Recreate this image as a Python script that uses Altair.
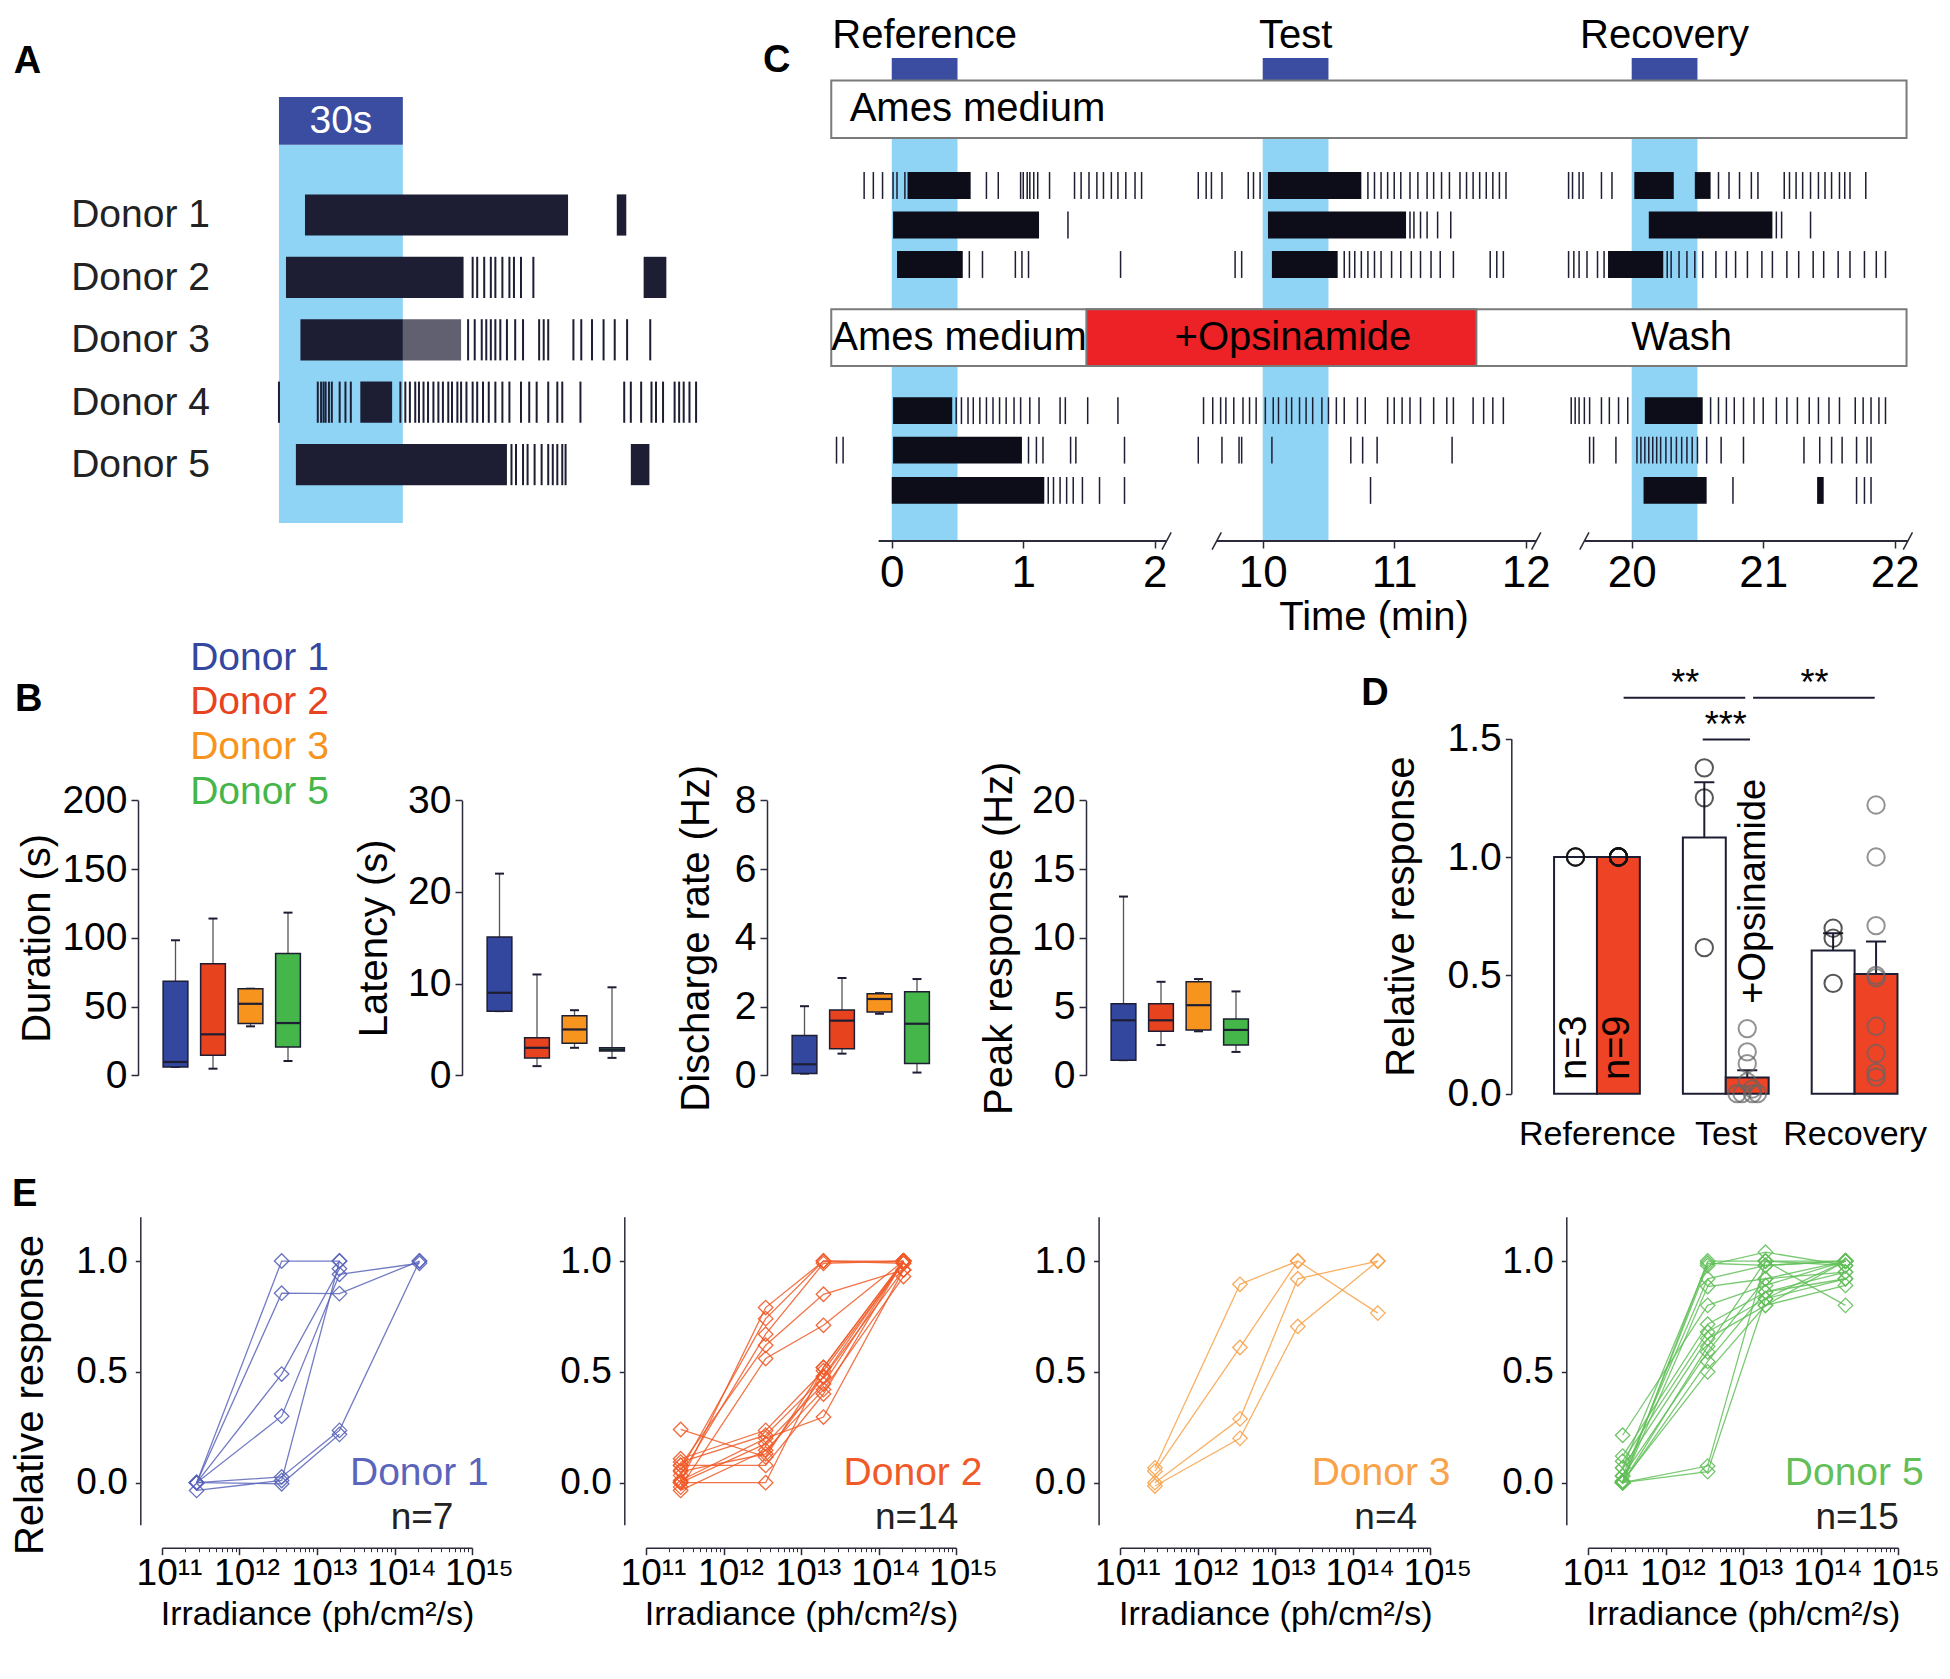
import altair as alt
import pandas as pd

FONT = "Liberation Sans, Arial, Helvetica, DejaVu Sans, sans-serif"
INK = "#1d1d33"
AXC = "#2a2a3a"
BAND = "#8fd4f5"
NAVY = "#3b4da0"
RED = "#ed2226"
BARRED = "#ee4324"
DON_COL = ["#34479e", "#e8431f", "#f7941d", "#45b64a"]
E_COL = ["#5964ba", "#f05a28", "#f8a24a", "#62bf59"]

# ---------------- Panel A data (time in s) ----------------
A_ROWS = [1, 2, 3, 4, 5]
A_BURST_ROW = [1, 1, 2, 2, 3, 3, 4, 5, 5]
A_BURST_START = [6.3, 81.8, 1.7, 88.3, 5.2, 30.0, 19.7, 4.1, 85.2]
A_BURST_END = [70.0, 84.1, 44.7, 93.8, 30.0, 44.1, 27.4, 55.2, 89.7]
A_BURST_SHADE = [1.0, 1.0, 1.0, 1.0, 1.0, 0.7, 1.0, 1.0, 1.0]
A_SPIKES = {
    2: [46.9, 48.0, 49.7, 51.3, 52.4, 54.1, 55.8, 56.9, 58.6, 61.6],
    3: [45.8, 47.4, 49.1, 50.2, 51.3, 52.4, 53.6, 55.2, 57.2, 59.1, 63.0, 64.1, 65.2,
        71.3, 73.2, 75.8, 78.6, 81.3, 84.3, 89.9],
    4: [0.0, 9.4, 10.2, 10.8, 11.3, 12.1, 12.8, 14.7, 16.1, 17.4, 29.4, 30.6, 31.7, 33.0,
        33.9, 35.0, 36.1, 37.4, 38.6, 39.7, 41.0, 41.9, 43.2, 44.1, 45.4, 46.9, 48.0, 49.4,
        50.8, 52.4, 54.1, 55.8, 58.6, 60.6, 62.4, 65.2, 67.4, 68.6, 73.0, 83.6, 85.2, 87.7,
        90.2, 91.3, 93.0, 95.8, 96.9, 98.0, 99.4, 101.0],
    5: [56.3, 57.4, 59.1, 60.2, 61.9, 63.6, 65.2, 66.3, 67.4, 68.6, 69.4],
}

# ---------------- Panel C data (time in min) ----------------
C_ROW_Y = {1: 1.0, 2: 2.0, 3: 3.0, 4: 6.7, 5: 7.7, 6: 8.72}
C_BURSTS = {
    1: [(0.12, 0.60), (10.04, 10.75), (20.02, 20.32), (20.48, 20.60)],
    2: [(0.01, 1.12), (10.04, 11.09), (20.13, 21.07)],
    3: [(0.04, 0.54), (10.07, 10.57), (19.82, 20.24)],
    4: [(0.01, 0.46), (20.10, 20.54)],
    5: [(0.01, 0.99)],
    6: [(0.0, 1.16), (20.09, 20.57), (21.41, 21.46)],
}
C_SPIKES = {
    1: [-0.21, -0.14, -0.07, 0.01, 0.04, 0.10, 0.72, 0.81, 0.98, 1.00, 1.03, 1.05, 1.08, 1.11,
        1.20, 1.39, 1.44, 1.50, 1.56, 1.61, 1.67, 1.72, 1.78, 1.85, 1.90, 9.51, 9.57, 9.61,
        9.69, 9.89, 9.93, 9.98, 10.80, 10.85, 10.90, 10.95, 11.00, 11.05, 11.12, 11.18, 11.25,
        11.30, 11.36, 11.42, 11.50, 11.55, 11.60, 11.65, 11.70, 11.75, 11.80, 11.85, 19.52,
        19.55, 19.60, 19.63, 19.77, 19.85, 20.66, 20.74, 20.82, 20.91, 20.96, 21.16, 21.20,
        21.25, 21.30, 21.36, 21.42, 21.47, 21.52, 21.58, 21.62, 21.66, 21.78],
    2: [1.34, 11.12, 11.15, 11.20, 11.25, 11.33, 11.43, 21.10, 21.14, 21.36],
    3: [0.59, 0.69, 0.94, 0.99, 1.04, 1.74, 9.79, 9.84, 10.62, 10.66, 10.70, 10.75, 10.80,
        10.85, 10.90, 10.98, 11.05, 11.13, 11.20, 11.28, 11.35, 11.45, 11.73, 11.78, 11.83,
        19.52, 19.56, 19.60, 19.66, 19.74, 19.79, 20.27, 20.30, 20.36, 20.42, 20.48, 20.54,
        20.64, 20.72, 20.79, 20.88, 20.99, 21.07, 21.18, 21.27, 21.38, 21.46, 21.57, 21.66,
        21.77, 21.86, 21.93],
    4: [0.49, 0.53, 0.58, 0.62, 0.67, 0.72, 0.77, 0.82, 0.87, 0.93, 0.98, 1.05, 1.12, 1.28,
        1.32, 1.49, 1.72, 9.55, 9.62, 9.68, 9.72, 9.78, 9.85, 9.90, 9.95, 10.02, 10.08, 10.12,
        10.18, 10.22, 10.28, 10.33, 10.38, 10.45, 10.50, 10.56, 10.62, 10.72, 10.78, 10.95,
        11.00, 11.06, 11.12, 11.20, 11.30, 11.40, 11.45, 11.60, 11.68, 11.75, 11.83, 19.54,
        19.57, 19.60, 19.64, 19.68, 19.77, 19.83, 19.90, 19.97, 20.60, 20.66, 20.72, 20.78,
        20.85, 20.93, 21.00, 21.10, 21.18, 21.26, 21.35, 21.42, 21.50, 21.58, 21.70, 21.76,
        21.82, 21.88, 21.93],
    5: [-0.42, -0.37, 1.04, 1.10, 1.15, 1.36, 1.40, 1.77, 9.51, 9.69, 9.82, 9.84, 10.07,
        10.67, 10.76, 10.87, 11.44, 19.68, 19.71, 19.88, 20.04, 20.07, 20.10, 20.13, 20.16,
        20.19, 20.22, 20.26, 20.30, 20.34, 20.38, 20.42, 20.46, 20.50, 20.57, 20.68, 20.85,
        21.31, 21.43, 21.52, 21.60, 21.71, 21.79, 21.82],
    6: [1.19, 1.23, 1.28, 1.33, 1.38, 1.45, 1.58, 1.77, 10.82, 20.77, 21.71, 21.77, 21.82],
}
C_TICKS = [0, 1, 2, 10, 11, 12, 20, 21, 22]
C_STIM = [0, 10, 20]
C_PHASES = ["Reference", "Test", "Recovery"]
C_SHIFT = [0.0, 7.179, 14.373]  # minutes cut out of the broken time axis


def cu(t):
    if t >= 19.0:
        return t - C_SHIFT[2]
    if t >= 9.0:
        return t - C_SHIFT[1]
    return t


# ---------------- Panel B data ----------------
B_DONORS = ["Donor 1", "Donor 2", "Donor 3", "Donor 5"]
B_DUR = dict(lo=[6.1, 4.8, 35.6, 10.4], q1=[6.1, 14.5, 37.6, 20.6], med=[9.7, 29.8, 52.0, 38.0],
             q3=[68.4, 81.2, 63.0, 88.5], hi=[98.2, 114.0, 63.0, 118.3])
B_LAT = dict(lo=[7.0, 1.0, 3.0, 1.9], q1=[7.0, 1.9, 3.5, 2.65], med=[9.0, 3.0, 5.0, 2.8],
             q3=[15.1, 4.1, 6.5, 3.0], hi=[22.0, 11.0, 7.1, 9.6])
B_DIS = dict(lo=[0.05, 0.63, 1.79, 0.08], q1=[0.05, 0.77, 1.84, 0.34], med=[0.32, 1.59, 2.22, 1.5],
             q3=[1.16, 1.9, 2.37, 2.43], hi=[2.01, 2.83, 2.39, 2.8])
B_PEAK = dict(lo=[1.1, 2.2, 3.2, 1.7], q1=[1.1, 3.2, 3.3, 2.2], med=[4.0, 4.0, 5.1, 3.3],
              q3=[5.2, 5.2, 6.8, 4.1], hi=[13.0, 6.8, 7.0, 6.1])

# ---------------- Panel D data ----------------
D_GROUPS = [0, 1, 2]
D_CTRL = [1.0, 1.083, 0.605]
D_OPS = [1.0, 0.068, 0.506]
D_CTRL_ERR = [1.0, 1.316, 0.678]
D_OPS_ERR = [1.0, 0.099, 0.643]
D_CTRL_PTS = [[1.0, 1.0, 1.0], [1.377, 1.25, 0.617], [0.699, 0.657, 0.466]]
D_OPS_PTS = [[1.0] * 9,
             [0.275, 0.177, 0.127, 0.05, 0.02, 0.0, 0.0, 0.0, 0.0],
             [1.22, 1.0, 0.71, 0.5, 0.49, 0.285, 0.17, 0.09, 0.07]]
D_OPS_JIT = [[0] * 9,
             [0, 0, 0, 0, 0.04, -0.08, -0.04, 0.04, 0.08],
             [0] * 9]

# ---------------- Panel E data ----------------
E_X = [2.8e11, 3.5e12, 1.95e13, 2.1e14]
E_LINES = [
    [[0.0, 1.0, 1.0, None], [0.0, 0.855, 0.853, 1.0], [0.0, 0.49, 0.965, None],
     [0.0, 0.3, 0.94, 0.99], [-0.035, 0.01, 1.0, None], [0.0, 0.026, 0.236, 1.0],
     [0.0, -0.005, 0.218, None]],
    [[0.003, 0.79, 1.0, 1.0], [0.056, 0.74, 1.0, 0.99], [0.033, 0.67, 0.99, 1.0],
     [0.078, 0.62, 0.85, 0.96], [-0.02, 0.56, 0.71, 1.0], [0.24, 0.116, 0.52, 1.0],
     [0.108, 0.236, 0.505, 0.99], [0.093, 0.214, 0.475, 0.96], [0.0, 0.176, 0.445, 1.0],
     [-0.035, 0.146, 0.42, 0.93], [0.078, 0.078, 0.4, 1.0], [0.0, 0.0, 0.52, 1.0],
     [0.01, 0.2, 0.296, 0.96], [0.05, 0.13, 0.48, 1.0]],
    [[0.067, 0.895, 1.0, 0.765], [0.052, 0.61, 1.0, None], [0.0, 0.288, 0.92, 1.0],
     [-0.015, 0.2, 0.705, 1.0]],
    [[0.0, 1.0, 1.0, 1.0], [0.007, 0.98, 1.04, 0.98], [0.03, 0.92, 0.98, 1.0],
     [0.0, 0.885, 0.92, 0.95], [0.214, 0.8, 0.89, 1.0], [0.12, 0.715, 0.86, 0.92],
     [0.097, 0.68, 0.83, 1.0], [0.067, 0.65, 0.8, 0.89], [0.0, 0.615, 1.0, 0.8],
     [0.03, 0.59, 0.92, 1.0], [0.0, 0.547, 0.86, 0.95], [0.007, 0.5, 0.8, 1.0],
     [0.0, 0.075, 1.0, 0.98], [0.0, 0.05, 0.83, 0.92], [0.067, 0.99, 0.98, 1.0]],
]
E_NAMES = ["Donor 1", "Donor 2", "Donor 3", "Donor 5"]
E_N = ["n=7", "n=14", "n=4", "n=15"]
E_LAB_X = [15.216, 15.34, 15.26, 15.33]
E_N_X = [14.76, 15.03, 14.83, 15.01]
E_DECADES = [1e11, 1e12, 1e13, 1e14, 1e15]
E_MINOR = [m * 10.0 ** e for e in range(11, 15) for m in range(2, 10)]

# ---------------- canvas geometry (one drawing area, panels placed by scale ranges) ----------
OFF = 6
W, H = 1932, 1664


def cx(v):
    return v - OFF


def cy(v):
    return v - OFF


LAYERS = []


def text_layer(df, xs, ys, align="center", size=40, color="black", weight="normal",
               angle=0, baseline="middle"):
    return alt.Chart(df).mark_text(align=align, baseline=baseline, fontSize=size, color=color,
                                   fontWeight=weight, angle=angle, font=FONT).encode(
        x=alt.X("x:Q", scale=xs, axis=None), y=alt.Y("y:Q", scale=ys, axis=None),
        text="text:N")


def ax_left(x_pos, **kw):
    base = dict(orient="left", offset=-cx(x_pos), grid=False, labelFont=FONT, titleFont=FONT,
                labelColor="black", titleColor="black", labelFlush=False, labelOverlap=False,
                domainColor=AXC, tickColor=AXC, domainWidth=1.5, tickWidth=1.5,
                titleFontWeight="normal")
    base.update(kw)
    return alt.Axis(**base)


def ax_bottom(y_pos, **kw):
    base = dict(orient="bottom", offset=cy(y_pos) - H, grid=False, labelFont=FONT, titleFont=FONT,
                labelColor="black", titleColor="black", labelFlush=False, labelOverlap=False,
                domainColor=AXC, tickColor=AXC, domainWidth=1.5, tickWidth=1.5,
                titleFontWeight="normal")
    base.update(kw)
    return alt.Axis(**base)


def rect_layer(df, xs, ys, xaxis=None, yaxis=None, **mk):
    return alt.Chart(df).mark_rect(**mk).encode(
        x=alt.X("x0:Q", scale=xs, axis=xaxis), x2="x1:Q",
        y=alt.Y("y0:Q", scale=ys, axis=yaxis), y2="y1:Q")


# ======================= Panel A =======================
xA = alt.Scale(domain=[-12, 105], range=[cx(227.4), cx(710.6)], nice=False, zero=False)
yA = alt.Scale(domain=[-2.157, 5.936], range=[cy(11), cy(516)], nice=False, zero=False)
axA = ax_left(227.4, values=A_ROWS, labelExpr="'Donor ' + datum.value", ticks=False, domain=False,
              labelFontSize=39, labelPadding=20, title=None, labelColor="#222")
HA = 0.33
LAYERS.append(rect_layer(pd.DataFrame({"x0": [0], "x1": [30], "y0": [-0.127], "y1": [5.936]}),
                         xA, yA, color=BAND))
LAYERS.append(rect_layer(pd.DataFrame({"x0": [0], "x1": [30], "y0": [-0.891], "y1": [-0.127]}),
                         xA, yA, color=NAVY))
LAYERS.append(text_layer(pd.DataFrame({"x": [15], "y": [-0.509], "text": ["30s"]}), xA, yA,
                         size=39, color="white"))
a_bursts = pd.DataFrame({"x0": A_BURST_START, "x1": A_BURST_END,
                         "y0": [r - HA for r in A_BURST_ROW], "y1": [r + HA for r in A_BURST_ROW],
                         "op": A_BURST_SHADE})
LAYERS.append(alt.Chart(a_bursts).mark_rect(color=INK).encode(
    x=alt.X("x0:Q", scale=xA, axis=None), x2="x1:Q", y=alt.Y("y0:Q", scale=yA, axis=None),
    y2="y1:Q", opacity=alt.Opacity("op:Q", scale=None)))
a_sp = pd.DataFrame([{"t": t, "y0": r - HA, "y1": r + HA} for r, ts in A_SPIKES.items() for t in ts])
LAYERS.append(alt.Chart(a_sp).mark_rule(color=INK, strokeWidth=2).encode(
    x=alt.X("t:Q", scale=xA, axis=None), y=alt.Y("y0:Q", scale=yA, axis=axA), y2="y1:Q"))
LAYERS.append(text_layer(pd.DataFrame({"x": [-64.2], "y": [-1.45], "text": ["A"]}), xA, yA,
                         align="left", size=38, weight="bold"))

# ======================= Panel C =======================
xC = alt.Scale(domain=[-0.5, cu(22.2)], range=[cx(824), cx(1919)], nice=False, zero=False)
yC = alt.Scale(domain=[-3.24, 10], range=[cy(11), cy(534)], nice=False, zero=False)
axC = ax_bottom(534, values=[cu(t) for t in C_TICKS],
                labelExpr=("datum.value < 2.5 ? format(datum.value, '.0f') : "
                           "(datum.value < 5.3 ? format(datum.value + 7.179, '.0f') : "
                           "format(datum.value + 14.373, '.0f'))"),
                domain=False, tickSize=7, labelFontSize=44, labelPadding=3,
                title="Time (min)", titleFontSize=40, titlePadding=2)
HC = 0.34
LAYERS.append(rect_layer(pd.DataFrame({"x0": [cu(s) for s in C_STIM], "x1": [cu(s) + 0.5 for s in C_STIM],
                                       "y0": [-1.66] * 3, "y1": [10] * 3}), xC, yC, xaxis=axC,
                         color=BAND))
LAYERS.append(rect_layer(pd.DataFrame({"x0": [cu(s) for s in C_STIM], "x1": [cu(s) + 0.5 for s in C_STIM],
                                       "y0": [-2.23] * 3, "y1": [-1.66] * 3}), xC, yC, color=NAVY))
LAYERS.append(rect_layer(pd.DataFrame({"x0": [cu(-0.46), cu(-0.46)], "x1": [cu(22.09), cu(22.09)],
                                       "y0": [-1.66, 4.13], "y1": [-0.2, 5.57]}), xC, yC,
                         fill="white", stroke="#7a7a7a", strokeWidth=2))
LAYERS.append(text_layer(pd.DataFrame({"x": [cu(-0.32), cu(-0.46)], "y": [-0.94, 4.85],
                                       "text": ["Ames medium", "Ames medium"]}), xC, yC,
                         align="left", size=40))
LAYERS.append(rect_layer(pd.DataFrame({"x0": [cu(1.48)], "x1": [cu(11.625)], "y0": [4.13],
                                       "y1": [5.57]}), xC, yC, fill=RED, stroke="#7a7a7a",
                         strokeWidth=2))
LAYERS.append(text_layer(pd.DataFrame({"x": [cu(0.25), cu(10.25), cu(20.25), cu(10.23), cu(20.38)],
                                       "y": [-2.78, -2.78, -2.78, 4.85, 4.85],
                                       "text": C_PHASES + ["+Opsinamide", "Wash"]}), xC, yC, size=40))
c_bur = pd.DataFrame([{"x0": cu(a), "x1": cu(b), "y0": C_ROW_Y[r] - HC, "y1": C_ROW_Y[r] + HC}
                      for r, lst in C_BURSTS.items() for a, b in lst])
LAYERS.append(rect_layer(c_bur, xC, yC, color="#0d0d1a"))
c_sp = pd.DataFrame([{"t": cu(t), "y0": C_ROW_Y[r] - HC, "y1": C_ROW_Y[r] + HC}
                     for r, ts in C_SPIKES.items() for t in ts])
LAYERS.append(alt.Chart(c_sp).mark_rule(color=INK, strokeWidth=1.5).encode(
    x=alt.X("t:Q", scale=xC, axis=None), y=alt.Y("y0:Q", scale=yC, axis=None), y2="y1:Q"))
C_SEG = [(-0.1, 2.09), (9.65, 12.08), (19.64, 22.1)]
LAYERS.append(alt.Chart(pd.DataFrame({"x0": [cu(a) for a, b in C_SEG], "x1": [cu(b) for a, b in C_SEG],
                                      "y": [10, 10, 10]})).mark_rule(color=AXC, strokeWidth=2).encode(
    x=alt.X("x0:Q", scale=xC, axis=None), x2="x1:Q", y=alt.Y("y:Q", scale=yC, axis=None)))
C_BREAKS = [cu(b) for b in [2.09, 9.65, 12.08, 19.64, 22.1]]
LAYERS.append(alt.Chart(pd.DataFrame({"x0": [b - 0.035 for b in C_BREAKS],
                                      "x1": [b + 0.035 for b in C_BREAKS],
                                      "y0": [10.22] * 5, "y1": [9.78] * 5})).mark_rule(
    color=AXC, strokeWidth=1.5).encode(
    x=alt.X("x0:Q", scale=xC, axis=None), x2="x1:Q", y=alt.Y("y0:Q", scale=yC, axis=None), y2="y1:Q"))
LAYERS.append(text_layer(pd.DataFrame({"x": [-0.98], "y": [-2.16], "text": ["C"]}), xC, yC,
                         align="left", size=38, weight="bold"))


# ======================= Panel B =======================
def box_panel(vals, ymax, ticks, title, axis_px, title_x):
    df = pd.DataFrame({"pos": [1, 2, 3, 4], "lo": vals["lo"], "q1": vals["q1"], "med": vals["med"],
                       "q3": vals["q3"], "hi": vals["hi"], "col": DON_COL})
    df["l"] = df.pos - 0.33
    df["r"] = df.pos + 0.33
    df["cl"] = df.pos - 0.12
    df["cr"] = df.pos + 0.12
    xs = alt.Scale(domain=[0, 4.6], range=[cx(axis_px), cx(axis_px + 172.5)], nice=False, zero=False)
    ys = alt.Scale(domain=[0, ymax], range=[cy(1068.3), cy(793.3)], nice=False, zero=False)
    yax = ax_left(axis_px, values=ticks, title=title, titleX=title_x, titleAngle=270,
                  titleAlign="center", titleBaseline="middle", tickSize=7, labelFontSize=39,
                  titleFontSize=40, labelPadding=4)
    base = alt.Chart(df)
    out = [
        base.mark_rule(color="#555", strokeWidth=1.3).encode(
            x=alt.X("pos:Q", scale=xs, axis=None), y=alt.Y("lo:Q", scale=ys, axis=yax), y2="hi:Q"),
        base.mark_rule(color=INK, strokeWidth=2).encode(
            x=alt.X("cl:Q", scale=xs, axis=None), x2="cr:Q", y=alt.Y("hi:Q", scale=ys, axis=None)),
        base.mark_rule(color=INK, strokeWidth=2).encode(
            x=alt.X("cl:Q", scale=xs, axis=None), x2="cr:Q", y=alt.Y("lo:Q", scale=ys, axis=None)),
        base.mark_rect(stroke=INK, strokeWidth=1.5).encode(
            x=alt.X("l:Q", scale=xs, axis=None), x2="r:Q", y=alt.Y("q1:Q", scale=ys, axis=None),
            y2="q3:Q", color=alt.Color("col:N", scale=None)),
        base.mark_rule(color=INK, strokeWidth=2.2).encode(
            x=alt.X("l:Q", scale=xs, axis=None), x2="r:Q", y=alt.Y("med:Q", scale=ys, axis=None)),
    ]
    return out, xs, ys


b1, xb1, yb1 = box_panel(B_DUR, 200, [0, 50, 100, 150, 200], "Duration (s)", 136, -101)
b2, _, _ = box_panel(B_LAT, 30, [0, 10, 20, 30], "Latency (s)", 460, -87.5)
b3, _, _ = box_panel(B_DIS, 8, [0, 2, 4, 6, 8], "Discharge rate (Hz)", 765, -70.5)
b4, _, _ = box_panel(B_PEAK, 20, [0, 5, 10, 15, 20], "Peak response (Hz)", 1084, -86.2)
LAYERS += b1 + b2 + b3 + b4
for name, col, yy in zip(B_DONORS, DON_COL, [303.5, 271.3, 238.8, 206.0]):
    LAYERS.append(text_layer(pd.DataFrame({"x": [1.39], "y": [yy], "text": [name]}), xb1, yb1,
                             align="left", size=39, color=col))
LAYERS.append(text_layer(pd.DataFrame({"x": [-3.28], "y": [273.3], "text": ["B"]}), xb1, yb1,
                         align="left", size=38, weight="bold"))

# ======================= Panel D =======================
xD = alt.Scale(domain=[-0.665, 2.5], range=[cx(1509.3), cx(1917)], nice=False, zero=False)
yD = alt.Scale(domain=[0, 1.5], range=[cy(1086.7), cy(731.7)], nice=False, zero=False)
axDy = ax_left(1509.3, values=[0, 0.5, 1.0, 1.5], format=".1f", tickSize=6, labelPadding=4,
               labelFontSize=39, title="Relative response", titleFontSize=40, titleX=-110.3,
               titleAngle=270, titleAlign="center", titleBaseline="middle")
axDx = ax_bottom(1086.7, values=[0, 1, 2],
                 labelExpr="datum.value == 0 ? 'Reference' : (datum.value == 1 ? 'Test' : 'Recovery')",
                 ticks=False, domain=False, labelFontSize=34, labelPadding=24, title=None)
bars = []
for g, vc, vo in zip(D_GROUPS, D_CTRL, D_OPS):
    bars.append({"x0": g - 0.333, "x1": g, "v": vc, "fill": "white"})
    bars.append({"x0": g, "x1": g + 0.333, "v": vo, "fill": BARRED})
LAYERS.append(alt.Chart(pd.DataFrame(bars)).mark_rect(stroke=INK, strokeWidth=2).encode(
    x=alt.X("x0:Q", scale=xD, axis=axDx), x2="x1:Q", y=alt.Y("v:Q", scale=yD, axis=axDy),
    y2=alt.datum(0), color=alt.Color("fill:N", scale=None)))
errs = []
for g, vc, ec, vo, eo in zip(D_GROUPS, D_CTRL, D_CTRL_ERR, D_OPS, D_OPS_ERR):
    if ec > vc:
        errs.append({"x": g - 0.1667, "v": vc, "e": ec})
    if eo > vo:
        errs.append({"x": g + 0.1667, "v": vo, "e": eo})
err_df = pd.DataFrame(errs)
err_df["c0"] = err_df.x - 0.078
err_df["c1"] = err_df.x + 0.078
LAYERS.append(alt.Chart(err_df).mark_rule(color=INK, strokeWidth=2).encode(
    x=alt.X("x:Q", scale=xD, axis=None), y=alt.Y("v:Q", scale=yD, axis=None), y2="e:Q"))
LAYERS.append(alt.Chart(err_df).mark_rule(color=INK, strokeWidth=2).encode(
    x=alt.X("c0:Q", scale=xD, axis=None), x2="c1:Q", y=alt.Y("e:Q", scale=yD, axis=None)))
pts = []
for g, lst in zip(D_GROUPS, D_CTRL_PTS):
    for v in lst:
        pts.append({"x": g - 0.1667, "v": v, "c": "#111111"})
for g, lst, jl in zip(D_GROUPS, D_OPS_PTS, D_OPS_JIT):
    for v, j in zip(lst, jl):
        pts.append({"x": g + 0.1667 + j, "v": v, "c": "#111111" if g == 0 else "#666666"})
LAYERS.append(alt.Chart(pd.DataFrame(pts)).mark_point(shape="circle", filled=False, size=300,
                                                      strokeWidth=2).encode(
    x=alt.X("x:Q", scale=xD, axis=None), y=alt.Y("v:Q", scale=yD, axis=None),
    color=alt.Color("c:N", scale=None)))
LAYERS.append(text_layer(pd.DataFrame({"x": [-0.1667, 0.1667, 1.22], "y": [0.058, 0.058, 0.38],
                                       "text": ["n=3", "n=9", "+Opsinamide"]}), xD, yD,
                         align="left", size=38, angle=270))
LAYERS.append(alt.Chart(pd.DataFrame({"x0": [0.207, 1.212, 0.821], "x1": [1.151, 2.156, 1.188],
                                      "y": [1.673, 1.673, 1.497]})).mark_rule(
    color=INK, strokeWidth=2).encode(
    x=alt.X("x0:Q", scale=xD, axis=None), x2="x1:Q", y=alt.Y("y:Q", scale=yD, axis=None)))
LAYERS.append(text_layer(pd.DataFrame({"x": [0.686, 1.689, 1.0], "y": [1.685, 1.685, 1.509],
                                       "text": ["**", "**", "***"]}), xD, yD, size=36,
                         baseline="alphabetic"))
LAYERS.append(text_layer(pd.DataFrame({"x": [-1.83], "y": [1.69], "text": ["D"]}), xD, yD,
                         align="left", size=38, weight="bold"))

# ======================= Panel E =======================
E_LABEL_EXPR = ("datum.value < 5e11 ? '10\u00b9\u00b9' : (datum.value < 5e12 ? '10\u00b9\u00b2' : "
                "(datum.value < 5e13 ? '10\u00b9\u00b3' : (datum.value < 5e14 ? '10\u00b9\u2074' : "
                "'10\u00b9\u2075')))")
E_LEFT = [160, 644, 1118.3, 1586]

for i in range(4):
    rows = []
    for li, vals in enumerate(E_LINES[i]):
        for k, v in enumerate(vals):
            if v is not None:
                rows.append({"line": li, "k": k, "x": E_X[k], "y": v})
    df = pd.DataFrame(rows)
    L = E_LEFT[i]
    xs = alt.Scale(type="log", domain=[1e11, 1e15], range=[cx(L), cx(L + 310)], nice=False)
    ys = alt.Scale(domain=[-0.19, 1.2], range=[cy(1517.8), cy(1209.7)], nice=False, zero=False)
    xax = ax_bottom(1540.7, values=E_DECADES, labelExpr=E_LABEL_EXPR, tickSize=7,
                    labelFontSize=37, labelPadding=1, labelOffset=7,
                    title="Irradiance (ph/cm\u00b2/s)", titleFontSize=34, titlePadding=6)
    if i == 0:
        yax = ax_left(L - 21.7, values=[0, 0.5, 1.0], format=".1f", tickSize=5, labelPadding=8,
                      labelFontSize=37, title="Relative response", titleFontSize=40, titleX=-110,
                      titleY=cy(1387.5), titleAngle=270, titleAlign="center",
                      titleBaseline="middle")
    else:
        yax = ax_left(L - 21.7, values=[0, 0.5, 1.0], format=".1f", tickSize=5, labelPadding=8,
                      labelFontSize=37, title=None)
    col = E_COL[i]
    LAYERS.append(alt.Chart(df).mark_line(color=col, strokeWidth=1.3, opacity=0.85).encode(
        x=alt.X("x:Q", scale=xs, axis=xax), y=alt.Y("y:Q", scale=ys, axis=yax),
        detail="line:N", order="k:Q"))
    minor = ax_bottom(1540.7, values=E_MINOR, labels=False, domain=False, tickSize=4,
                      tickWidth=1, title=None)
    LAYERS.append(alt.Chart(df).mark_point(shape="diamond", filled=False, size=210, strokeWidth=1.3,
                                           color=col, opacity=0.9).encode(
        x=alt.X("x:Q", scale=xs, axis=minor), y=alt.Y("y:Q", scale=ys, axis=None)))
    LAYERS.append(text_layer(pd.DataFrame({"x": [10 ** E_LAB_X[i]], "y": [0.045],
                                           "text": [E_NAMES[i]]}), xs, ys, align="right",
                             size=39, color=col))
    LAYERS.append(text_layer(pd.DataFrame({"x": [10 ** E_N_X[i]], "y": [-0.16], "text": [E_N[i]]}),
                             xs, ys, align="right", size=37, color="#222"))
    if i == 0:
        LAYERS.append(text_layer(pd.DataFrame({"x": [10 ** 9.065], "y": [1.30], "text": ["E"]}),
                                 xs, ys, align="left", size=38, weight="bold"))

chart = alt.layer(*LAYERS).resolve_scale(x="independent", y="independent").resolve_axis(
    x="independent", y="independent").properties(
    width=W, height=H, padding={"left": 0, "top": 5, "right": 0, "bottom": 0}
).configure(font=FONT).configure_view(stroke=None)

chart.save("out.html", embed_options={"renderer": "svg", "actions": False})
